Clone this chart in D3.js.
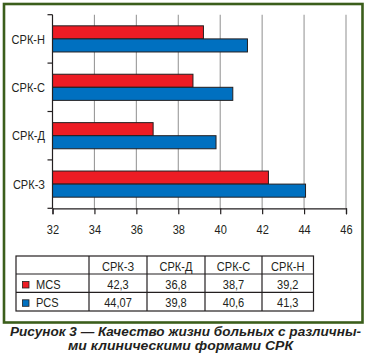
<!DOCTYPE html>
<html><head><meta charset="utf-8">
<script src="https://cdn.jsdelivr.net/npm/d3@7"></script>
<style>
html,body{margin:0;padding:0;background:#fff;}
svg{display:block;}
text{font-family:"Liberation Sans",Arial,sans-serif;fill:#231f20;}
.cap{font-weight:bold;font-style:italic;}
</style></head>
<body>
<svg id="c" width="366" height="361"></svg>
<script>
const categories = ["СРК-З", "СРК-Д", "СРК-С", "СРК-Н"];
const seriesNames = ["MCS", "PCS"];
const mcsValues = [42.3, 36.8, 38.7, 39.2];
const pcsValues = [44.07, 39.8, 40.6, 41.3];
const xTicks = [32, 34, 36, 38, 40, 42, 44, 46];
const captionLines = ["Рисунок 3 — Качество жизни больных с различны-", "ми клиническими формами СРК"];
const colors = ["#ed1c24", "#0070c0"];

const SX = 0.85; // condensed look
const svg = d3.select("#c");
const series = [mcsValues, pcsValues];

function ntext(sel, x, y, str, anchor) {
  return sel.append("text").attr("transform", `translate(${x},${y}) scale(${SX},1)`)
    .attr("text-anchor", anchor || "start").attr("font-size", 13).text(str);
}

// frame
svg.append("rect").attr("x", 4).attr("y", 4).attr("width", 358.5).attr("height", 318.5)
  .attr("fill", "none").attr("stroke", "#3b5e1b").attr("stroke-width", 2.6);

const x = d3.scaleLinear().domain([32, 46]).range([52.5, 346]);
const yOrder = categories.slice().reverse(); // top: СРК-Н
const y = d3.scaleBand().domain(yOrder).range([14.7, 208.3]).paddingInner(0.46).paddingOuter(0.23);
const y1 = d3.scaleBand().domain(seriesNames).range([0, y.bandwidth()]);

// grid
svg.append("g").selectAll("line").data(xTicks.slice(1)).join("line")
  .attr("x1", d => x(d)).attr("x2", d => x(d)).attr("y1", 14.7).attr("y2", 208.3)
  .attr("stroke", "#999").attr("stroke-width", 1.1);

// bars
const g = svg.append("g");
categories.forEach((c, i) => {
  series.forEach((s, j) => {
    g.append("rect")
      .attr("x", x(32)).attr("y", y(c) + y1(seriesNames[j]))
      .attr("width", x(s[i]) - x(32)).attr("height", y1.bandwidth())
      .attr("fill", colors[j]).attr("stroke", "#231f20").attr("stroke-width", 1);
  });
});

// y axis
const bandStep = (208.3 - 14.7) / categories.length;
const yLine = svg.append("g");
yLine.append("line").attr("x1", x(32)).attr("x2", x(32)).attr("y1", 14.7).attr("y2", 208.3).attr("stroke", "#231f20").attr("stroke-width", 1.2);
d3.range(categories.length + 1).forEach(k => {
  yLine.append("line").attr("x1", x(32) - 5).attr("x2", x(32)).attr("y1", 14.7 + k * bandStep).attr("y2", 14.7 + k * bandStep).attr("stroke", "#231f20").attr("stroke-width", 1.2);
});
categories.forEach(c => ntext(yLine, 45, y(c) + y.bandwidth() / 2 + 4.7, c, "end"));

// x axis
const xa = svg.append("g").attr("transform", "translate(0,208.3)")
  .call(d3.axisBottom(x).tickValues(xTicks).tickSize(6).tickPadding(10).tickFormat(d3.format("d")));
xa.select(".domain").attr("stroke", "#231f20").attr("stroke-width", 1.2);
xa.selectAll(".tick line").attr("stroke", "#231f20").attr("stroke-width", 1.2);
xa.selectAll(".tick text").attr("font-size", 13).attr("font-family", null).attr("fill", "#231f20")
  .attr("transform", `scale(${SX},1)`);

// table
const colX = [16, 89, 147, 205, 262, 313.5];
const rowY = [256, 274, 292.3, 311];
const tb = svg.append("g");
tb.append("rect").attr("x", colX[0]).attr("y", rowY[0]).attr("width", colX[5] - colX[0]).attr("height", rowY[3] - rowY[0])
  .attr("fill", "none").attr("stroke", "#231f20").attr("stroke-width", 1.2);
colX.slice(1, 5).forEach(cx => tb.append("line").attr("x1", cx).attr("x2", cx).attr("y1", rowY[0]).attr("y2", rowY[3]).attr("stroke", "#231f20").attr("stroke-width", 1.2));
rowY.slice(1, 3).forEach(ry => tb.append("line").attr("x1", colX[0]).attr("x2", colX[5]).attr("y1", ry).attr("y2", ry).attr("stroke", "#231f20").attr("stroke-width", 1.2));
categories.forEach((c, i) => ntext(tb, (colX[i + 1] + colX[i + 2]) / 2, rowY[1] - 3.5, c, "middle"));
seriesNames.forEach((n, j) => {
  const ry = rowY[j + 1];
  tb.append("rect").attr("x", 22.5).attr("y", ry + 7.5).attr("width", 6.5).attr("height", 6.5)
    .attr("fill", colors[j]).attr("stroke", "#231f20").attr("stroke-width", 0.8);
  ntext(tb, 36, ry + 14.5, n, "start");
  series[j].forEach((v, i) => ntext(tb, (colX[i + 1] + colX[i + 2]) / 2, ry + 14.5, String(v).replace(".", ","), "middle"));
});

// caption
svg.append("text").attr("class", "cap").attr("x", 10).attr("y", 335.5).attr("font-size", 12.8)
  .attr("textLength", 351).attr("lengthAdjust", "spacingAndGlyphs").text(captionLines[0]);
svg.append("text").attr("class", "cap").attr("x", 68).attr("y", 350).attr("font-size", 12.8)
  .attr("textLength", 225).attr("lengthAdjust", "spacingAndGlyphs").text(captionLines[1]);
</script>
</body></html>
